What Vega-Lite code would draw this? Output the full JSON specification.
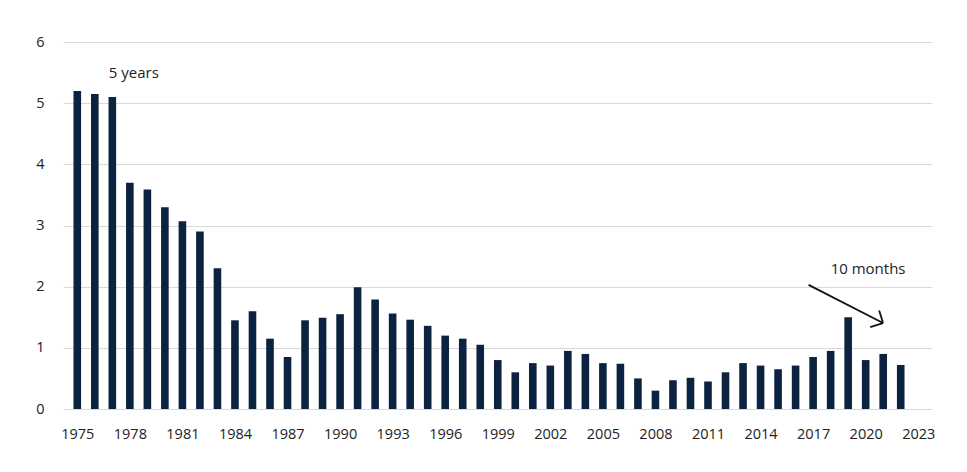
{
  "$schema": "https://vega.github.io/schema/vega-lite/v6.json",
  "autosize": "none",
  "width": 869,
  "height": 367,
  "padding": {"left": 63, "top": 42, "right": 35, "bottom": 63},
  "background": "white",
  "config": {
    "view": {"stroke": null},
    "font": "Open Sans",
    "axis": {"labelFont": "Open Sans", "labelFontSize": 14.5, "labelColor": "#222222"}
  },
  "datasets": {
    "bars": [
      {"year": 1975, "value": 5.2}, {"year": 1976, "value": 5.15}, {"year": 1977, "value": 5.1},
      {"year": 1978, "value": 3.7}, {"year": 1979, "value": 3.59}, {"year": 1980, "value": 3.3},
      {"year": 1981, "value": 3.07}, {"year": 1982, "value": 2.9}, {"year": 1983, "value": 2.3},
      {"year": 1984, "value": 1.45}, {"year": 1985, "value": 1.6}, {"year": 1986, "value": 1.15},
      {"year": 1987, "value": 0.85}, {"year": 1988, "value": 1.45}, {"year": 1989, "value": 1.49},
      {"year": 1990, "value": 1.55}, {"year": 1991, "value": 1.99}, {"year": 1992, "value": 1.79},
      {"year": 1993, "value": 1.56}, {"year": 1994, "value": 1.46}, {"year": 1995, "value": 1.36},
      {"year": 1996, "value": 1.2}, {"year": 1997, "value": 1.15}, {"year": 1998, "value": 1.05},
      {"year": 1999, "value": 0.8}, {"year": 2000, "value": 0.6}, {"year": 2001, "value": 0.75},
      {"year": 2002, "value": 0.71}, {"year": 2003, "value": 0.95}, {"year": 2004, "value": 0.9},
      {"year": 2005, "value": 0.75}, {"year": 2006, "value": 0.74}, {"year": 2007, "value": 0.5},
      {"year": 2008, "value": 0.3}, {"year": 2009, "value": 0.47}, {"year": 2010, "value": 0.51},
      {"year": 2011, "value": 0.45}, {"year": 2012, "value": 0.6}, {"year": 2013, "value": 0.75},
      {"year": 2014, "value": 0.71}, {"year": 2015, "value": 0.65}, {"year": 2016, "value": 0.71},
      {"year": 2017, "value": 0.85}, {"year": 2018, "value": 0.95}, {"year": 2019, "value": 1.5},
      {"year": 2020, "value": 0.8}, {"year": 2021, "value": 0.9}, {"year": 2022, "value": 0.72}
    ],
    "labels": [
      {"year": 1976.8, "value": 5.49, "label": "5 years"},
      {"year": 2018.0, "value": 2.29, "label": "10 months"}
    ],
    "arrow": [
      {"year": 2016.74, "value": 2.03, "year2": 2020.99, "value2": 1.405},
      {"year": 2020.26, "value": 1.34, "year2": 2020.99, "value2": 1.405},
      {"year": 2020.77, "value": 1.61, "year2": 2020.99, "value2": 1.405}
    ]
  },
  "layer": [
    {
      "data": {"name": "bars"},
      "mark": {"type": "bar", "size": 7.6, "color": "#0b2240"},
      "encoding": {
        "x": {
          "field": "year",
          "type": "quantitative",
          "scale": {"domain": [1974.47, 2023.5], "nice": false, "zero": false},
          "axis": {
            "values": [1975, 1978, 1981, 1984, 1987, 1990, 1993, 1996, 1999, 2002, 2005, 2008, 2011, 2014, 2017, 2020, 2023],
            "format": "d",
            "title": null,
            "grid": false,
            "ticks": false,
            "domain": false,
            "labelPadding": 18,
            "labelFlush": false
          }
        },
        "y": {
          "field": "value",
          "type": "quantitative",
          "scale": {"domain": [0, 6], "nice": false},
          "axis": {
            "values": [0, 1, 2, 3, 4, 5, 6],
            "format": "d",
            "title": null,
            "ticks": false,
            "domain": false,
            "labelPadding": 19,
            "gridColor": "#d9d9d9",
            "gridWidth": 1
          }
        }
      }
    },
    {
      "data": {"name": "labels"},
      "mark": {"type": "text", "align": "left", "baseline": "middle", "fontSize": 15, "color": "#222222", "font": "Open Sans"},
      "encoding": {
        "x": {"field": "year", "type": "quantitative"},
        "y": {"field": "value", "type": "quantitative"},
        "text": {"field": "label"}
      }
    },
    {
      "data": {"name": "arrow"},
      "mark": {"type": "rule", "color": "#111111", "strokeWidth": 1.8},
      "encoding": {
        "x": {"field": "year", "type": "quantitative"},
        "y": {"field": "value", "type": "quantitative"},
        "x2": {"field": "year2"},
        "y2": {"field": "value2"}
      }
    }
  ]
}
